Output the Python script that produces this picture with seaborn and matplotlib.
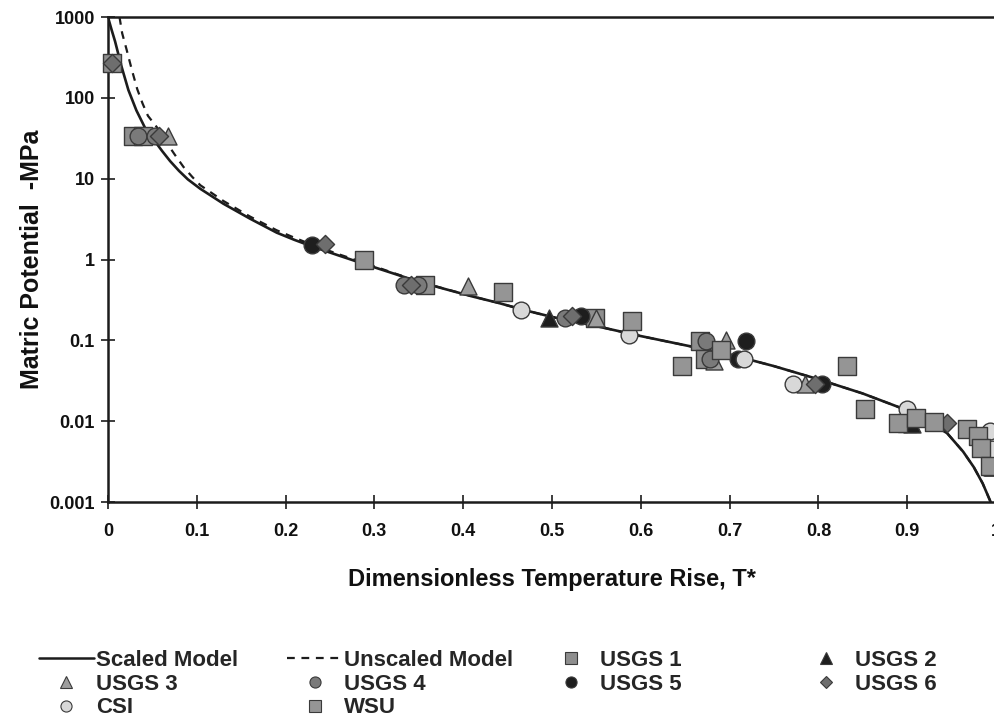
import matplotlib
matplotlib.use("Agg")
import matplotlib.pyplot as plt
from matplotlib.lines import Line2D
import seaborn as sns
import pandas as pd

# Model curves: dimensionless temperature rise vs. matric potential (-MPa)
scaled_t = [0.0, 0.004, 0.008, 0.015, 0.023, 0.032, 0.042, 0.05, 0.061, 0.07, 0.08, 0.09,
            0.104, 0.13, 0.16, 0.19, 0.21, 0.23, 0.26, 0.29, 0.32, 0.35, 0.38, 0.41,
            0.44, 0.47, 0.50, 0.55, 0.60, 0.65, 0.70, 0.75, 0.80, 0.85, 0.89,
            0.92, 0.945, 0.963, 0.975, 0.985, 0.994]
scaled_psi = [1000, 700, 500, 250, 125, 70, 42, 32, 22, 16.5, 12.5, 9.8,
              7.5, 4.9, 3.2, 2.15, 1.75, 1.45, 1.12, 0.87, 0.68, 0.53, 0.43, 0.35,
              0.29, 0.235, 0.195, 0.15, 0.113, 0.087, 0.067, 0.048, 0.033, 0.022, 0.015,
              0.0105, 0.0071, 0.0042, 0.0027, 0.0017, 0.001]

unscaled_t = [0.013, 0.016, 0.021, 0.027, 0.033, 0.039, 0.045, 0.056, 0.066, 0.075, 0.085,
              0.095, 0.104, 0.13, 0.16, 0.19, 0.21, 0.23, 0.26, 0.29, 0.32, 0.35, 0.38,
              0.41, 0.44, 0.47, 0.50, 0.55, 0.60, 0.65, 0.70, 0.75, 0.80, 0.85, 0.89,
              0.92, 0.945, 0.963, 0.975, 0.985, 0.994]
unscaled_psi = [1000, 630, 395, 220, 128, 85, 60, 42, 28, 20, 14,
                10.5, 8.3, 5.3, 3.4, 2.3, 1.86, 1.52, 1.16, 0.9, 0.69, 0.535, 0.432,
                0.351, 0.29, 0.235, 0.195, 0.15, 0.113, 0.087, 0.067, 0.048, 0.033, 0.022, 0.015,
                0.0105, 0.0071, 0.0042, 0.0027, 0.0017, 0.001]

# Measured data by soil / laboratory
usgs1_t = [0.005, 0.028, 0.040, 0.357, 0.548, 0.667, 0.672, 0.900]
usgs1_psi = [270, 34, 34, 0.48, 0.19, 0.098, 0.058, 0.0095]

usgs2_t = [0.497, 0.905, 0.997]
usgs2_psi = [0.187, 0.0093, 0.0027]

usgs3_t = [0.068, 0.405, 0.550, 0.696, 0.683, 0.785, 0.995]
usgs3_psi = [34, 0.47, 0.19, 0.10, 0.056, 0.029, 0.0027]

usgs4_t = [0.034, 0.053, 0.333, 0.349, 0.515, 0.674, 0.678]
usgs4_psi = [34, 34, 0.48, 0.48, 0.19, 0.098, 0.058]

usgs5_t = [0.230, 0.533, 0.718, 0.710, 0.804]
usgs5_psi = [1.5, 0.20, 0.098, 0.058, 0.029]

usgs6_t = [0.005, 0.057, 0.244, 0.341, 0.522, 0.796, 0.945]
usgs6_psi = [270, 34, 1.55, 0.48, 0.20, 0.029, 0.0095]

csi_t = [0.465, 0.587, 0.716, 0.771, 0.900, 0.993, 0.996]
csi_psi = [0.235, 0.115, 0.058, 0.029, 0.014, 0.0075, 0.0045]

wsu_t = [0.288, 0.445, 0.590, 0.646, 0.690, 0.832, 0.852, 0.890, 0.910, 0.930,
         0.967, 0.980, 0.983, 0.993]
wsu_psi = [1.0, 0.40, 0.176, 0.048, 0.077, 0.048, 0.014, 0.0095, 0.011, 0.0098,
           0.0079, 0.0066, 0.0047, 0.0028]

x_ticks = [0, 0.1, 0.2, 0.3, 0.4, 0.5, 0.6, 0.7, 0.8, 0.9, 1.0]
x_tick_labels = ["0", "0.1", "0.2", "0.3", "0.4", "0.5", "0.6", "0.7", "0.8", "0.9", "1"]
y_ticks = [0.001, 0.01, 0.1, 1, 10, 100, 1000]
y_tick_labels = ["0.001", "0.01", "0.1", "1", "10", "100", "1000"]

sns.set_theme(style="ticks")
plt.rcParams["font.family"] = ["Liberation Sans", "DejaVu Sans"]
plt.rcParams["font.weight"] = "bold"

fig = plt.figure(figsize=(9.95, 7.18), dpi=100)
ax = fig.add_axes([0.1085, 0.3008, 0.8925, 0.6755])

line_col = "#1c1c1c"
edge_col = "#3a3a3a"
dash = (0, (3.5, 3))

curves = pd.DataFrame({"t": scaled_t, "psi": scaled_psi})
curves_u = pd.DataFrame({"t": unscaled_t, "psi": unscaled_psi})
sns.lineplot(data=curves_u, x="t", y="psi", ax=ax, color=line_col, lw=1.6,
             linestyle=dash, estimator=None, sort=False, zorder=2)
sns.lineplot(data=curves, x="t", y="psi", ax=ax, color=line_col, lw=1.9,
             estimator=None, sort=False, zorder=3)

series = [
    ("USGS 1", usgs1_t, usgs1_psi, "s", "#8e8e8e"),
    ("USGS 2", usgs2_t, usgs2_psi, "^", "#1e1e1e"),
    ("USGS 3", usgs3_t, usgs3_psi, "^", "#9d9d9d"),
    ("USGS 4", usgs4_t, usgs4_psi, "o", "#7a7a7a"),
    ("USGS 5", usgs5_t, usgs5_psi, "o", "#1e1e1e"),
    ("USGS 6", usgs6_t, usgs6_psi, "D", "#6e6e6e"),
    ("CSI", csi_t, csi_psi, "o", "#d8d8d8"),
    ("WSU", wsu_t, wsu_psi, "s", "#959595"),
]
sizes = {"s": 150, "^": 150, "o": 145, "D": 85}
handles = {}
for name, t, psi, mk, col in series:
    sns.scatterplot(x=t, y=psi, ax=ax, marker=mk, color=col, s=sizes[mk],
                    edgecolor=edge_col, linewidth=1.0, zorder=4, clip_on=False)
    handles[name] = Line2D([], [], linestyle="none", marker=mk, markerfacecolor=col,
                           markeredgecolor=edge_col, markeredgewidth=0.8,
                           markersize=8 if mk != "D" else 6)

handles["Scaled Model"] = Line2D([], [], color=line_col, lw=1.8)
handles["Unscaled Model"] = Line2D([], [], color=line_col, lw=1.6, linestyle=dash)

ax.set_yscale("log")
ax.set_xlim(0, 1.0)
ax.set_ylim(0.001, 1000)
ax.set_xticks(x_ticks)
ax.set_xticklabels(x_tick_labels)
ax.set_yticks(y_ticks)
ax.set_yticklabels(y_tick_labels)
ax.minorticks_off()
ax.tick_params(axis="both", direction="inout", length=10, width=1.2, color=line_col,
               labelsize=13, labelcolor="#111111")
ax.tick_params(axis="x", pad=10)
ax.tick_params(axis="y", pad=4.5)
for lab in ax.get_xticklabels() + ax.get_yticklabels():
    lab.set_fontweight("bold")

for side in ("left", "bottom", "top"):
    ax.spines[side].set_color(line_col)
    ax.spines[side].set_linewidth(1.8)
ax.spines["right"].set_visible(False)

ax.set_xlabel("Dimensionless Temperature Rise, T*", fontsize=17, fontweight="bold",
              color="#111111", labelpad=20)
ax.set_ylabel("Matric Potential  -MPa", fontsize=18, fontweight="bold",
              color="#111111", labelpad=4)

legend_cols = [
    (0.039, ["Scaled Model", "USGS 3", "CSI"]),
    (0.2885, ["Unscaled Model", "USGS 4", "WSU"]),
    (0.5457, ["USGS 1", "USGS 5"]),
    (0.802, ["USGS 2", "USGS 6"]),
]
for xpos, names in legend_cols:
    fig.legend([handles[n] for n in names], names, loc="upper left",
               bbox_to_anchor=(xpos, 0.0945), bbox_transform=fig.transFigure,
               frameon=False, handlelength=2.48, handletextpad=0.08,
               labelspacing=0.12, borderaxespad=0, borderpad=0,
               prop={"weight": "bold", "size": 16})

fig.savefig("out.png", dpi=100, facecolor="white")
